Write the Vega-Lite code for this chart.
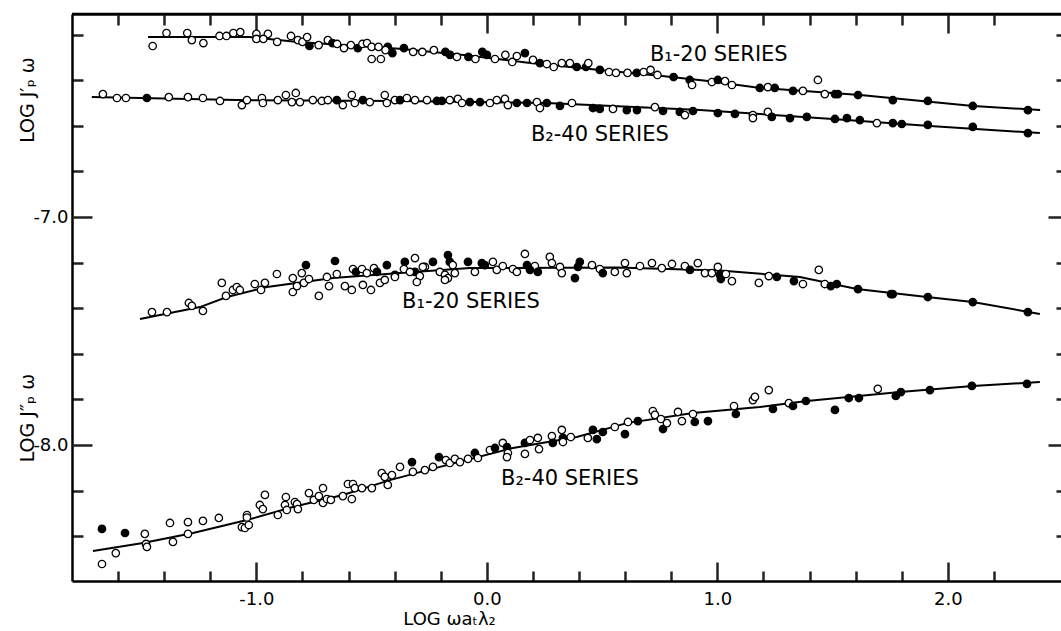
{
  "$schema": "https://vega.github.io/schema/vega-lite/v6.json",
  "width": 989,
  "height": 567,
  "autosize": "none",
  "padding": {"left": 72, "top": 14, "right": 0, "bottom": 50},
  "background": "white",
  "config": {"view": {"stroke": null}, "font": "DejaVu Sans", "axis": {"grid": false, "tickWidth": 2.5, "domainWidth": 2.5, "labelColor": "black", "labelFontSize": 18, "labelFlush": false, "labelOverlap": false, "title": null, "zindex": 1}},
  "datasets": {
    "frame": [
      {"x": -1.8, "x2": 2.4907, "y": -6.1096}
    ],
    "curves": [
      {"c": "B1-20 J'", "x": -1.47, "y": -6.211}, {"c": "B1-20 J'", "x": -1.03, "y": -6.211}, {"c": "B1-20 J'", "x": -0.82, "y": -6.232}, {"c": "B1-20 J'", "x": -0.38, "y": -6.262}, {"c": "B1-20 J'", "x": -0.10, "y": -6.289}, {"c": "B1-20 J'", "x": 0.17, "y": -6.322}, {"c": "B1-20 J'", "x": 0.49, "y": -6.355}, {"c": "B1-20 J'", "x": 0.76, "y": -6.382}, {"c": "B1-20 J'", "x": 0.97, "y": -6.405}, {"c": "B1-20 J'", "x": 1.17, "y": -6.432}, {"c": "B1-20 J'", "x": 1.62, "y": -6.465}, {"c": "B1-20 J'", "x": 1.92, "y": -6.494}, {"c": "B1-20 J'", "x": 2.11, "y": -6.513}, {"c": "B1-20 J'", "x": 2.40, "y": -6.531},
      {"c": "B2-40 J'", "x": -1.714, "y": -6.474}, {"c": "B2-40 J'", "x": -1.085, "y": -6.487}, {"c": "B2-40 J'", "x": -0.377, "y": -6.491}, {"c": "B2-40 J'", "x": 0.26, "y": -6.500}, {"c": "B2-40 J'", "x": 0.924, "y": -6.531}, {"c": "B2-40 J'", "x": 1.501, "y": -6.570}, {"c": "B2-40 J'", "x": 1.922, "y": -6.601}, {"c": "B2-40 J'", "x": 2.399, "y": -6.632},
      {"c": "B1-20 J''", "x": -1.505, "y": -7.447}, {"c": "B1-20 J''", "x": -1.245, "y": -7.395}, {"c": "B1-20 J''", "x": -1.128, "y": -7.351}, {"c": "B1-20 J''", "x": -0.954, "y": -7.307}, {"c": "B1-20 J''", "x": -0.668, "y": -7.268}, {"c": "B1-20 J''", "x": -0.377, "y": -7.246}, {"c": "B1-20 J''", "x": -0.074, "y": -7.224}, {"c": "B1-20 J''", "x": 0.564, "y": -7.222}, {"c": "B1-20 J''", "x": 1.011, "y": -7.235}, {"c": "B1-20 J''", "x": 1.358, "y": -7.263}, {"c": "B1-20 J''", "x": 1.605, "y": -7.316}, {"c": "B1-20 J''", "x": 1.909, "y": -7.351}, {"c": "B1-20 J''", "x": 2.108, "y": -7.373}, {"c": "B1-20 J''", "x": 2.399, "y": -7.425},
      {"c": "B2-40 J''", "x": -1.709, "y": -8.465}, {"c": "B2-40 J''", "x": -1.492, "y": -8.430}, {"c": "B2-40 J''", "x": -1.275, "y": -8.386}, {"c": "B2-40 J''", "x": -1.041, "y": -8.329}, {"c": "B2-40 J''", "x": -0.842, "y": -8.272}, {"c": "B2-40 J''", "x": -0.625, "y": -8.219}, {"c": "B2-40 J''", "x": -0.421, "y": -8.154}, {"c": "B2-40 J''", "x": -0.291, "y": -8.119}, {"c": "B2-40 J''", "x": 0.113, "y": -8.013}, {"c": "B2-40 J''", "x": 0.390, "y": -7.965}, {"c": "B2-40 J''", "x": 0.607, "y": -7.904}, {"c": "B2-40 J''", "x": 0.894, "y": -7.860}, {"c": "B2-40 J''", "x": 1.184, "y": -7.833}, {"c": "B2-40 J''", "x": 1.388, "y": -7.807}, {"c": "B2-40 J''", "x": 1.792, "y": -7.768}, {"c": "B2-40 J''", "x": 2.108, "y": -7.741}, {"c": "B2-40 J''", "x": 2.399, "y": -7.724}
    ],
    "points": [
      {"x": -1.39, "y": -6.193, "k": "o"}, {"x": -1.45, "y": -6.250, "k": "o"}, {"x": -1.30, "y": -6.193, "k": "o"}, {"x": -1.28, "y": -6.224, "k": "o"}, {"x": -1.23, "y": -6.237, "k": "o"}, {"x": -1.16, "y": -6.206, "k": "o"}, {"x": -1.13, "y": -6.206, "k": "o"}, {"x": -1.10, "y": -6.193, "k": "o"}, {"x": -1.07, "y": -6.189, "k": "o"}, {"x": -1.00, "y": -6.197, "k": "o"}, {"x": -1.00, "y": -6.219, "k": "o"}, {"x": -0.95, "y": -6.197, "k": "o"}, {"x": -0.97, "y": -6.219, "k": "o"}, {"x": -0.91, "y": -6.232, "k": "o"}, {"x": -0.85, "y": -6.206, "k": "o"}, {"x": -0.82, "y": -6.224, "k": "o"}, {"x": -0.80, "y": -6.232, "k": "o"}, {"x": -0.78, "y": -6.211, "k": "o"}, {"x": -0.77, "y": -6.250, "k": "f"}, {"x": -0.73, "y": -6.246, "k": "o"}, {"x": -0.69, "y": -6.224, "k": "o"}, {"x": -0.67, "y": -6.237, "k": "f"}, {"x": -0.65, "y": -6.241, "k": "o"}, {"x": -0.62, "y": -6.259, "k": "o"}, {"x": -0.59, "y": -6.246, "k": "o"}, {"x": -0.56, "y": -6.259, "k": "f"}, {"x": -0.54, "y": -6.241, "k": "o"}, {"x": -0.52, "y": -6.237, "k": "o"}, {"x": -0.50, "y": -6.307, "k": "o"}, {"x": -0.46, "y": -6.307, "k": "o"}, {"x": -0.50, "y": -6.254, "k": "o"}, {"x": -0.47, "y": -6.254, "k": "o"}, {"x": -0.43, "y": -6.254, "k": "f"}, {"x": -0.41, "y": -6.281, "k": "f"}, {"x": -0.44, "y": -6.268, "k": "o"}, {"x": -0.36, "y": -6.259, "k": "f"}, {"x": -0.32, "y": -6.276, "k": "o"}, {"x": -0.28, "y": -6.276, "k": "o"}, {"x": -0.23, "y": -6.268, "k": "o"}, {"x": -0.18, "y": -6.276, "k": "f"}, {"x": -0.16, "y": -6.289, "k": "f"}, {"x": -0.13, "y": -6.298, "k": "o"}, {"x": -0.08, "y": -6.298, "k": "f"}, {"x": -0.05, "y": -6.307, "k": "o"}, {"x": -0.02, "y": -6.276, "k": "f"}, {"x": 0.0, "y": -6.289, "k": "f"}, {"x": 0.035, "y": -6.307, "k": "o"}, {"x": 0.08, "y": -6.289, "k": "o"}, {"x": 0.11, "y": -6.320, "k": "o"}, {"x": 0.165, "y": -6.281, "k": "f"}, {"x": 0.13, "y": -6.294, "k": "o"}, {"x": 0.20, "y": -6.311, "k": "o"}, {"x": 0.23, "y": -6.325, "k": "f"}, {"x": 0.26, "y": -6.329, "k": "o"}, {"x": 0.29, "y": -6.342, "k": "o"}, {"x": 0.325, "y": -6.325, "k": "o"}, {"x": 0.36, "y": -6.325, "k": "o"}, {"x": 0.39, "y": -6.342, "k": "f"}, {"x": 0.43, "y": -6.342, "k": "f"}, {"x": 0.44, "y": -6.325, "k": "o"}, {"x": 0.49, "y": -6.355, "k": "f"}, {"x": 0.53, "y": -6.364, "k": "o"}, {"x": 0.56, "y": -6.368, "k": "o"}, {"x": 0.61, "y": -6.368, "k": "o"}, {"x": 0.65, "y": -6.368, "k": "f"}, {"x": 0.68, "y": -6.364, "k": "o"}, {"x": 0.71, "y": -6.355, "k": "o"}, {"x": 0.74, "y": -6.377, "k": "o"}, {"x": 0.81, "y": -6.386, "k": "f"}, {"x": 0.88, "y": -6.399, "k": "f"}, {"x": 0.89, "y": -6.421, "k": "o"}, {"x": 0.976, "y": -6.408, "k": "o"}, {"x": 1.002, "y": -6.399, "k": "f"}, {"x": 1.033, "y": -6.404, "k": "o"}, {"x": 1.063, "y": -6.421, "k": "o"}, {"x": 1.436, "y": -6.399, "k": "o"}, {"x": 1.184, "y": -6.434, "k": "f"}, {"x": 1.219, "y": -6.430, "k": "o"}, {"x": 1.249, "y": -6.434, "k": "f"}, {"x": 1.328, "y": -6.447, "k": "f"}, {"x": 1.371, "y": -6.447, "k": "o"}, {"x": 1.466, "y": -6.461, "k": "o"}, {"x": 1.51, "y": -6.461, "k": "f"}, {"x": 1.523, "y": -6.461, "k": "f"}, {"x": 1.61, "y": -6.465, "k": "f"}, {"x": 1.761, "y": -6.487, "k": "f"}, {"x": 1.913, "y": -6.491, "k": "f"}, {"x": 2.108, "y": -6.513, "k": "f"}, {"x": 2.347, "y": -6.531, "k": "f"},
      {"x": -1.666, "y": -6.461, "k": "o"}, {"x": -1.605, "y": -6.478, "k": "o"}, {"x": -1.566, "y": -6.478, "k": "o"}, {"x": -1.475, "y": -6.478, "k": "f"}, {"x": -1.380, "y": -6.474, "k": "o"}, {"x": -1.297, "y": -6.474, "k": "o"}, {"x": -1.232, "y": -6.478, "k": "o"}, {"x": -1.158, "y": -6.491, "k": "o"}, {"x": -1.063, "y": -6.509, "k": "o"}, {"x": -1.041, "y": -6.487, "k": "o"}, {"x": -0.976, "y": -6.478, "k": "o"}, {"x": -0.972, "y": -6.500, "k": "o"}, {"x": -0.907, "y": -6.487, "k": "o"}, {"x": -0.872, "y": -6.465, "k": "o"}, {"x": -0.829, "y": -6.456, "k": "o"}, {"x": -0.846, "y": -6.496, "k": "o"}, {"x": -0.811, "y": -6.496, "k": "o"}, {"x": -0.755, "y": -6.487, "k": "o"}, {"x": -0.716, "y": -6.491, "k": "o"}, {"x": -0.690, "y": -6.487, "k": "o"}, {"x": -0.651, "y": -6.487, "k": "f"}, {"x": -0.625, "y": -6.509, "k": "o"}, {"x": -0.586, "y": -6.465, "k": "o"}, {"x": -0.573, "y": -6.500, "k": "o"}, {"x": -0.538, "y": -6.487, "k": "f"}, {"x": -0.508, "y": -6.496, "k": "o"}, {"x": -0.443, "y": -6.465, "k": "o"}, {"x": -0.434, "y": -6.500, "k": "o"}, {"x": -0.399, "y": -6.487, "k": "o"}, {"x": -0.377, "y": -6.487, "k": "f"}, {"x": -0.347, "y": -6.478, "k": "o"}, {"x": -0.312, "y": -6.487, "k": "o"}, {"x": -0.260, "y": -6.487, "k": "o"}, {"x": -0.217, "y": -6.491, "k": "f"}, {"x": -0.195, "y": -6.491, "k": "f"}, {"x": -0.161, "y": -6.487, "k": "o"}, {"x": -0.126, "y": -6.482, "k": "o"}, {"x": -0.108, "y": -6.500, "k": "o"}, {"x": -0.074, "y": -6.496, "k": "f"}, {"x": -0.030, "y": -6.496, "k": "f"}, {"x": 0.013, "y": -6.500, "k": "o"}, {"x": 0.043, "y": -6.487, "k": "o"}, {"x": 0.078, "y": -6.482, "k": "o"}, {"x": 0.091, "y": -6.509, "k": "o"}, {"x": 0.130, "y": -6.500, "k": "f"}, {"x": 0.174, "y": -6.500, "k": "f"}, {"x": 0.217, "y": -6.496, "k": "o"}, {"x": 0.230, "y": -6.522, "k": "o"}, {"x": 0.260, "y": -6.500, "k": "f"}, {"x": 0.317, "y": -6.513, "k": "f"}, {"x": 0.369, "y": -6.500, "k": "o"}, {"x": 0.460, "y": -6.522, "k": "f"}, {"x": 0.490, "y": -6.526, "k": "f"}, {"x": 0.547, "y": -6.526, "k": "o"}, {"x": 0.607, "y": -6.531, "k": "f"}, {"x": 0.651, "y": -6.531, "k": "f"}, {"x": 0.729, "y": -6.518, "k": "o"}, {"x": 0.764, "y": -6.535, "k": "f"}, {"x": 0.837, "y": -6.539, "k": "f"}, {"x": 0.894, "y": -6.535, "k": "f"}, {"x": 0.859, "y": -6.553, "k": "o"}, {"x": 1.002, "y": -6.544, "k": "f"}, {"x": 1.076, "y": -6.548, "k": "f"}, {"x": 1.154, "y": -6.553, "k": "o"}, {"x": 1.154, "y": -6.566, "k": "o"}, {"x": 1.219, "y": -6.539, "k": "o"}, {"x": 1.236, "y": -6.561, "k": "f"}, {"x": 1.315, "y": -6.566, "k": "f"}, {"x": 1.388, "y": -6.561, "k": "f"}, {"x": 1.510, "y": -6.570, "k": "f"}, {"x": 1.562, "y": -6.566, "k": "f"}, {"x": 1.618, "y": -6.575, "k": "f"}, {"x": 1.692, "y": -6.588, "k": "o"}, {"x": 1.761, "y": -6.588, "k": "f"}, {"x": 1.800, "y": -6.592, "k": "f"}, {"x": 1.913, "y": -6.596, "k": "f"}, {"x": 2.108, "y": -6.605, "k": "f"}, {"x": 2.347, "y": -6.632, "k": "f"},
      {"x": -1.453, "y": -7.417, "k": "o"}, {"x": -1.388, "y": -7.417, "k": "o"}, {"x": -1.293, "y": -7.377, "k": "o"}, {"x": -1.280, "y": -7.390, "k": "o"}, {"x": -1.232, "y": -7.412, "k": "o"}, {"x": -1.150, "y": -7.289, "k": "o"}, {"x": -1.132, "y": -7.346, "k": "o"}, {"x": -1.102, "y": -7.320, "k": "o"}, {"x": -1.085, "y": -7.307, "k": "o"}, {"x": -1.072, "y": -7.320, "k": "o"}, {"x": -1.007, "y": -7.294, "k": "o"}, {"x": -0.980, "y": -7.320, "k": "o"}, {"x": -0.963, "y": -7.289, "k": "o"}, {"x": -0.911, "y": -7.250, "k": "o"}, {"x": -0.842, "y": -7.268, "k": "o"}, {"x": -0.842, "y": -7.329, "k": "o"}, {"x": -0.824, "y": -7.303, "k": "o"}, {"x": -0.803, "y": -7.246, "k": "o"}, {"x": -0.794, "y": -7.289, "k": "o"}, {"x": -0.772, "y": -7.272, "k": "o"}, {"x": -0.785, "y": -7.211, "k": "f"}, {"x": -0.729, "y": -7.346, "k": "o"}, {"x": -0.694, "y": -7.263, "k": "o"}, {"x": -0.685, "y": -7.303, "k": "o"}, {"x": -0.659, "y": -7.193, "k": "f"}, {"x": -0.651, "y": -7.250, "k": "o"}, {"x": -0.616, "y": -7.303, "k": "o"}, {"x": -0.586, "y": -7.320, "k": "o"}, {"x": -0.581, "y": -7.228, "k": "o"}, {"x": -0.568, "y": -7.241, "k": "f"}, {"x": -0.542, "y": -7.228, "k": "o"}, {"x": -0.538, "y": -7.298, "k": "o"}, {"x": -0.521, "y": -7.246, "k": "o"}, {"x": -0.503, "y": -7.320, "k": "o"}, {"x": -0.490, "y": -7.224, "k": "o"}, {"x": -0.477, "y": -7.241, "k": "f"}, {"x": -0.464, "y": -7.289, "k": "o"}, {"x": -0.443, "y": -7.276, "k": "o"}, {"x": -0.434, "y": -7.211, "k": "f"}, {"x": -0.399, "y": -7.254, "k": "f"}, {"x": -0.356, "y": -7.197, "k": "f"}, {"x": -0.360, "y": -7.228, "k": "o"}, {"x": -0.312, "y": -7.180, "k": "o"}, {"x": -0.312, "y": -7.241, "k": "f"}, {"x": -0.291, "y": -7.259, "k": "o"}, {"x": -0.304, "y": -7.285, "k": "o"}, {"x": -0.269, "y": -7.219, "k": "o"}, {"x": -0.399, "y": -7.263, "k": "o"}, {"x": -0.334, "y": -7.241, "k": "o"}, {"x": -0.278, "y": -7.219, "k": "o"}, {"x": -0.234, "y": -7.197, "k": "f"}, {"x": -0.204, "y": -7.241, "k": "o"}, {"x": -0.182, "y": -7.254, "k": "o"}, {"x": -0.169, "y": -7.167, "k": "f"}, {"x": -0.161, "y": -7.197, "k": "f"}, {"x": -0.169, "y": -7.268, "k": "o"}, {"x": -0.182, "y": -7.276, "k": "o"}, {"x": -0.139, "y": -7.246, "k": "o"}, {"x": -0.148, "y": -7.211, "k": "o"}, {"x": -0.082, "y": -7.197, "k": "f"}, {"x": -0.052, "y": -7.241, "k": "o"}, {"x": -0.022, "y": -7.202, "k": "f"}, {"x": -0.009, "y": -7.211, "k": "f"}, {"x": 0.026, "y": -7.197, "k": "o"}, {"x": 0.043, "y": -7.232, "k": "o"}, {"x": 0.069, "y": -7.215, "k": "o"}, {"x": 0.113, "y": -7.228, "k": "o"}, {"x": 0.130, "y": -7.241, "k": "o"}, {"x": 0.165, "y": -7.162, "k": "o"}, {"x": 0.174, "y": -7.211, "k": "f"}, {"x": 0.208, "y": -7.215, "k": "o"}, {"x": 0.187, "y": -7.232, "k": "f"}, {"x": 0.221, "y": -7.241, "k": "f"}, {"x": 0.273, "y": -7.175, "k": "o"}, {"x": 0.282, "y": -7.202, "k": "o"}, {"x": 0.317, "y": -7.219, "k": "o"}, {"x": 0.325, "y": -7.246, "k": "o"}, {"x": 0.382, "y": -7.268, "k": "f"}, {"x": 0.395, "y": -7.219, "k": "f"}, {"x": 0.403, "y": -7.197, "k": "f"}, {"x": 0.456, "y": -7.211, "k": "o"}, {"x": 0.490, "y": -7.228, "k": "o"}, {"x": 0.503, "y": -7.246, "k": "f"}, {"x": 0.555, "y": -7.241, "k": "o"}, {"x": 0.599, "y": -7.202, "k": "o"}, {"x": 0.607, "y": -7.246, "k": "o"}, {"x": 0.664, "y": -7.215, "k": "o"}, {"x": 0.716, "y": -7.202, "k": "o"}, {"x": 0.759, "y": -7.224, "k": "o"}, {"x": 0.803, "y": -7.206, "k": "o"}, {"x": 0.859, "y": -7.215, "k": "o"}, {"x": 0.881, "y": -7.232, "k": "f"}, {"x": 0.915, "y": -7.202, "k": "o"}, {"x": 0.946, "y": -7.246, "k": "o"}, {"x": 0.976, "y": -7.246, "k": "o"}, {"x": 1.002, "y": -7.219, "k": "o"}, {"x": 1.011, "y": -7.254, "k": "f"}, {"x": 1.015, "y": -7.272, "k": "f"}, {"x": 1.037, "y": -7.250, "k": "o"}, {"x": 1.063, "y": -7.281, "k": "o"}, {"x": 1.180, "y": -7.289, "k": "o"}, {"x": 1.223, "y": -7.259, "k": "o"}, {"x": 1.258, "y": -7.263, "k": "f"}, {"x": 1.332, "y": -7.281, "k": "f"}, {"x": 1.371, "y": -7.294, "k": "o"}, {"x": 1.440, "y": -7.232, "k": "o"}, {"x": 1.466, "y": -7.294, "k": "o"}, {"x": 1.492, "y": -7.303, "k": "f"}, {"x": 1.518, "y": -7.294, "k": "f"}, {"x": 1.610, "y": -7.316, "k": "f"}, {"x": 1.753, "y": -7.338, "k": "f"}, {"x": 1.761, "y": -7.338, "k": "f"}, {"x": 1.913, "y": -7.351, "k": "f"}, {"x": 2.108, "y": -7.373, "k": "f"}, {"x": 2.347, "y": -7.417, "k": "f"},
      {"x": -1.670, "y": -8.368, "k": "f"}, {"x": -1.670, "y": -8.522, "k": "o"}, {"x": -1.610, "y": -8.474, "k": "o"}, {"x": -1.570, "y": -8.386, "k": "f"}, {"x": -1.484, "y": -8.390, "k": "o"}, {"x": -1.479, "y": -8.434, "k": "o"}, {"x": -1.475, "y": -8.447, "k": "o"}, {"x": -1.375, "y": -8.342, "k": "o"}, {"x": -1.362, "y": -8.425, "k": "o"}, {"x": -1.297, "y": -8.338, "k": "o"}, {"x": -1.297, "y": -8.390, "k": "o"}, {"x": -1.232, "y": -8.333, "k": "o"}, {"x": -1.163, "y": -8.320, "k": "o"}, {"x": -1.063, "y": -8.360, "k": "o"}, {"x": -1.050, "y": -8.364, "k": "o"}, {"x": -1.033, "y": -8.351, "k": "o"}, {"x": -1.041, "y": -8.307, "k": "o"}, {"x": -1.041, "y": -8.318, "k": "o"}, {"x": -0.985, "y": -8.263, "k": "o"}, {"x": -0.972, "y": -8.281, "k": "o"}, {"x": -0.963, "y": -8.219, "k": "o"}, {"x": -0.907, "y": -8.307, "k": "o"}, {"x": -0.876, "y": -8.263, "k": "o"}, {"x": -0.872, "y": -8.228, "k": "o"}, {"x": -0.868, "y": -8.285, "k": "o"}, {"x": -0.833, "y": -8.250, "k": "o"}, {"x": -0.824, "y": -8.259, "k": "o"}, {"x": -0.820, "y": -8.281, "k": "o"}, {"x": -0.772, "y": -8.211, "k": "o"}, {"x": -0.751, "y": -8.241, "k": "o"}, {"x": -0.729, "y": -8.224, "k": "o"}, {"x": -0.711, "y": -8.189, "k": "o"}, {"x": -0.711, "y": -8.254, "k": "o"}, {"x": -0.694, "y": -8.237, "k": "o"}, {"x": -0.677, "y": -8.241, "k": "o"}, {"x": -0.625, "y": -8.224, "k": "o"}, {"x": -0.603, "y": -8.171, "k": "o"}, {"x": -0.586, "y": -8.237, "k": "o"}, {"x": -0.581, "y": -8.171, "k": "o"}, {"x": -0.573, "y": -8.189, "k": "o"}, {"x": -0.542, "y": -8.189, "k": "o"}, {"x": -0.499, "y": -8.189, "k": "o"}, {"x": -0.456, "y": -8.123, "k": "o"}, {"x": -0.443, "y": -8.140, "k": "o"}, {"x": -0.430, "y": -8.175, "k": "o"}, {"x": -0.412, "y": -8.132, "k": "o"}, {"x": -0.377, "y": -8.096, "k": "o"}, {"x": -0.325, "y": -8.075, "k": "f"}, {"x": -0.321, "y": -8.118, "k": "o"}, {"x": -0.269, "y": -8.110, "k": "o"}, {"x": -0.234, "y": -8.096, "k": "o"}, {"x": -0.208, "y": -8.053, "k": "f"}, {"x": -0.178, "y": -8.066, "k": "o"}, {"x": -0.161, "y": -8.079, "k": "o"}, {"x": -0.139, "y": -8.061, "k": "o"}, {"x": -0.117, "y": -8.075, "k": "o"}, {"x": -0.082, "y": -8.061, "k": "o"}, {"x": -0.052, "y": -8.035, "k": "f"}, {"x": -0.039, "y": -8.057, "k": "o"}, {"x": 0.013, "y": -8.022, "k": "o"}, {"x": 0.035, "y": -8.013, "k": "f"}, {"x": 0.069, "y": -7.991, "k": "o"}, {"x": 0.087, "y": -8.009, "k": "f"}, {"x": 0.091, "y": -8.035, "k": "o"}, {"x": 0.087, "y": -8.053, "k": "o"}, {"x": 0.165, "y": -8.039, "k": "o"}, {"x": 0.165, "y": -7.991, "k": "f"}, {"x": 0.187, "y": -7.978, "k": "o"}, {"x": 0.221, "y": -7.969, "k": "o"}, {"x": 0.226, "y": -8.018, "k": "o"}, {"x": 0.282, "y": -7.961, "k": "o"}, {"x": 0.286, "y": -7.991, "k": "f"}, {"x": 0.325, "y": -7.934, "k": "o"}, {"x": 0.330, "y": -7.969, "k": "f"}, {"x": 0.330, "y": -7.987, "k": "o"}, {"x": 0.364, "y": -7.965, "k": "o"}, {"x": 0.438, "y": -7.969, "k": "o"}, {"x": 0.460, "y": -7.934, "k": "f"}, {"x": 0.477, "y": -7.974, "k": "f"}, {"x": 0.503, "y": -7.943, "k": "f"}, {"x": 0.555, "y": -7.921, "k": "o"}, {"x": 0.599, "y": -7.952, "k": "f"}, {"x": 0.612, "y": -7.899, "k": "o"}, {"x": 0.655, "y": -7.895, "k": "f"}, {"x": 0.720, "y": -7.851, "k": "o"}, {"x": 0.729, "y": -7.868, "k": "o"}, {"x": 0.755, "y": -7.886, "k": "o"}, {"x": 0.764, "y": -7.930, "k": "f"}, {"x": 0.781, "y": -7.904, "k": "o"}, {"x": 0.829, "y": -7.855, "k": "o"}, {"x": 0.846, "y": -7.895, "k": "o"}, {"x": 0.894, "y": -7.864, "k": "o"}, {"x": 0.902, "y": -7.899, "k": "f"}, {"x": 0.959, "y": -7.895, "k": "f"}, {"x": 1.072, "y": -7.829, "k": "o"}, {"x": 1.080, "y": -7.864, "k": "f"}, {"x": 1.154, "y": -7.803, "k": "o"}, {"x": 1.163, "y": -7.789, "k": "o"}, {"x": 1.223, "y": -7.759, "k": "o"}, {"x": 1.241, "y": -7.842, "k": "f"}, {"x": 1.310, "y": -7.816, "k": "o"}, {"x": 1.328, "y": -7.829, "k": "f"}, {"x": 1.384, "y": -7.807, "k": "f"}, {"x": 1.510, "y": -7.846, "k": "f"}, {"x": 1.570, "y": -7.794, "k": "f"}, {"x": 1.614, "y": -7.794, "k": "f"}, {"x": 1.696, "y": -7.754, "k": "o"}, {"x": 1.774, "y": -7.785, "k": "f"}, {"x": 1.796, "y": -7.768, "k": "f"}, {"x": 1.922, "y": -7.759, "k": "f"}, {"x": 2.104, "y": -7.741, "k": "f"}, {"x": 2.343, "y": -7.732, "k": "f"}
    ],
    "serieslabels": [
      {"text": "B₁-20 SERIES", "x": 1.006, "y": -6.289},
      {"text": "B₂-40 SERIES", "x": 0.490, "y": -6.640},
      {"text": "B₁-20 SERIES", "x": -0.069, "y": -7.373},
      {"text": "B₂-40 SERIES", "x": 0.360, "y": -8.149}
    ],
    "ytitles": [
      {"text": "LOG J′ₚ ω", "x": -1.99, "y": -6.487},
      {"text": "LOG J″ₚ ω", "x": -1.99, "y": -7.882}
    ]
  },
  "layer": [
    {
      "data": {"name": "curves"},
      "mark": {"type": "line", "color": "black", "strokeWidth": 2},
      "encoding": {
        "x": {"field": "x", "type": "quantitative",
          "scale": {"domain": [-1.8, 2.4907], "nice": false, "zero": false},
          "axis": {"orient": "bottom", "offset": -567, "labels": false, "tickSize": 11, "tickColor": "#222222", "domainColor": "#222222",
            "values": [-1.6, -1.4, -1.2, -0.8, -0.6, -0.4, -0.2, 0.2, 0.4, 0.6, 0.8, 1.2, 1.4, 1.6, 1.8, 2.2]}},
        "y": {"field": "y", "type": "quantitative",
          "scale": {"domain": [-8.5965, -6.1096], "nice": false, "zero": false},
          "axis": {"orient": "left", "labels": false, "tickSize": -11, "tickColor": "#222222", "domainColor": "black",
            "values": [-6.2, -6.4, -6.6, -6.8, -7.2, -7.4, -7.6, -7.8, -8.2, -8.4]}},
        "detail": {"field": "c"}
      }
    },
    {
      "data": {"name": "points"},
      "mark": {"type": "point", "shape": "circle", "filled": true, "stroke": "black", "strokeWidth": 1.3, "size": 55, "opacity": 1},
      "encoding": {
        "x": {"field": "x", "type": "quantitative",
          "scale": {"domain": [-1.8, 2.4907], "nice": false, "zero": false},
          "axis": {"orient": "bottom", "domain": false, "tickSize": -19, "labelPadding": 28, "tickColor": "#222222",
            "values": [-1.0, 0, 1.0, 2.0],
            "labelExpr": "(datum.value < 0 ? '-' : '') + format(abs(datum.value), '.1f')",
            "title": "LOG  ωaₜλ₂", "titleFontSize": 18, "titleFontWeight": "normal", "titleColor": "black",
            "titleX": 377, "titleY": 43, "titleBaseline": "alphabetic", "titleAlign": "center"}},
        "y": {"field": "y", "type": "quantitative",
          "scale": {"domain": [-8.5965, -6.1096], "nice": false, "zero": false},
          "axis": {"orient": "left", "domain": false, "tickSize": -20, "labelPadding": 24, "tickColor": "#222222",
            "values": [-7.0, -8.0],
            "labelExpr": "(datum.value < 0 ? '-' : '') + format(abs(datum.value), '.1f')"}},
        "fill": {"field": "k", "type": "nominal", "scale": {"domain": ["o", "f"], "range": ["white", "black"]}, "legend": null}
      }
    },
    {
      "data": {"name": "serieslabels"},
      "mark": {"type": "text", "fontSize": 21, "font": "DejaVu Sans", "color": "black", "align": "center", "baseline": "middle"},
      "encoding": {
        "x": {"field": "x", "type": "quantitative", "scale": {"domain": [-1.8, 2.4907], "nice": false, "zero": false},
          "axis": {"orient": "bottom", "labels": false, "tickSize": -10, "tickColor": "#222222", "domainColor": "black",
            "values": [-1.6, -1.4, -1.2, -0.8, -0.6, -0.4, -0.2, 0.2, 0.4, 0.6, 0.8, 1.2, 1.4, 1.6, 1.8, 2.2]}},
        "y": {"field": "y", "type": "quantitative", "scale": {"domain": [-8.5965, -6.1096], "nice": false, "zero": false},
          "axis": {"orient": "right", "labels": false, "domain": false, "tickSize": -5, "tickColor": "#222222",
            "values": [-6.2, -6.4, -6.6, -6.8, -7.2, -7.4, -7.6, -7.8, -8.2, -8.4]}},
        "text": {"field": "text"}
      }
    },
    {
      "data": {"name": "ytitles"},
      "mark": {"type": "text", "fontSize": 19, "font": "DejaVu Sans", "color": "black", "align": "center", "baseline": "middle", "angle": 270},
      "encoding": {
        "x": {"field": "x", "type": "quantitative", "scale": {"domain": [-1.8, 2.4907], "nice": false, "zero": false},
          "axis": {"orient": "bottom", "offset": -567, "labels": false, "domain": false, "tickSize": 19, "tickColor": "#222222",
            "values": [-1.0, 0, 1.0, 2.0]}},
        "y": {"field": "y", "type": "quantitative", "scale": {"domain": [-8.5965, -6.1096], "nice": false, "zero": false},
          "axis": {"orient": "right", "labels": false, "domain": false, "tickSize": -13, "tickColor": "#222222",
            "values": [-7.0, -8.0]}},
        "text": {"field": "text"}
      }
    },
    {
      "data": {"name": "frame"},
      "mark": {"type": "rule", "color": "black", "strokeWidth": 2.5, "clip": false},
      "encoding": {
        "x": {"field": "x", "type": "quantitative", "scale": {"domain": [-1.8, 2.4907], "nice": false, "zero": false}, "axis": null},
        "x2": {"field": "x2"},
        "y": {"field": "y", "type": "quantitative", "scale": {"domain": [-8.5965, -6.1096], "nice": false, "zero": false}, "axis": null}
      }
    }
  ],
  "resolve": {"axis": {"x": "independent", "y": "independent"}}
}
